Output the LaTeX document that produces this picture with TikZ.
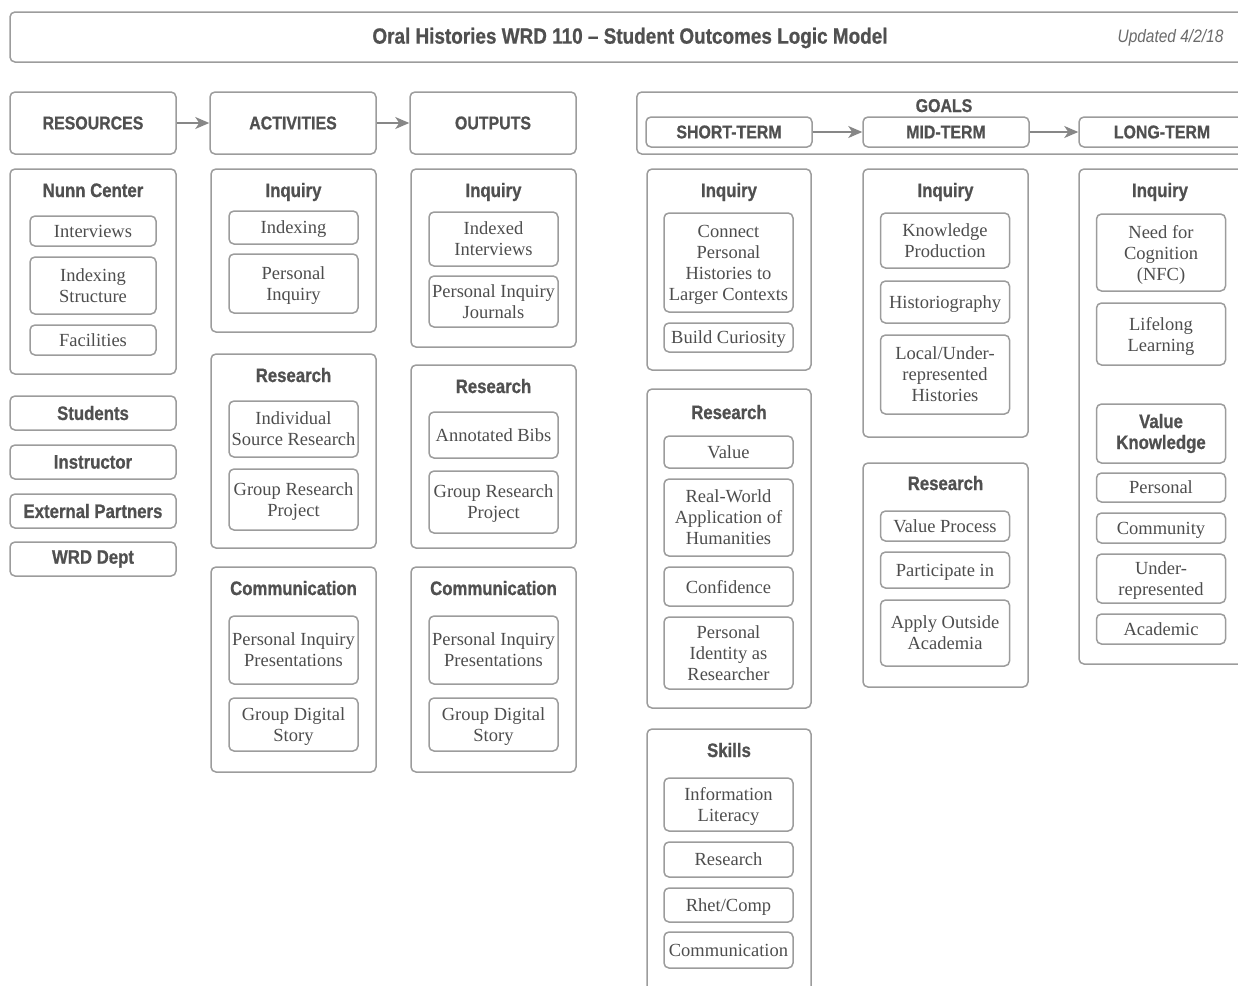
\documentclass[tikz,border=0pt]{standalone}
\usepackage{fontspec}
\setmainfont{Liberation Serif}
\newfontfamily\condsans[FakeStretch=0.86, BoldFeatures={FakeBold=0.8}]{Liberation Sans}
\usepackage{xcolor}
\usepackage{tikz}
\usetikzlibrary{arrows.meta, positioning}
\definecolor{ink}{HTML}{505050}
\definecolor{itemink}{HTML}{4D4D4D}
\definecolor{rule}{HTML}{9C9C9C}
\definecolor{arrowgrey}{HTML}{878787}
\newcommand{\headfont}{\condsans\bfseries\fontsize{19.5}{21}\selectfont}
\newcommand{\termfont}{\condsans\bfseries\fontsize{18.5}{21}\selectfont}
\newcommand{\itemfont}{\fontsize{18.5}{21}\selectfont}
\tikzstyle{groupbox} = [rectangle, rounded corners=5pt, draw=rule, line width=1.5pt, inner sep=0pt]
\tikzstyle{itembox} = [groupbox, minimum width=129pt, align=center, font=\itemfont, text=itemink, text depth=-2pt]
\tikzstyle{headbox} = [groupbox, minimum width=166pt, align=center, font=\headfont, text=ink]
\tikzstyle{headtext} = [anchor=base, font=\headfont, text=ink]
\tikzstyle{flow} = [line width=1.5pt, -{Stealth[length=14pt, width=12pt, inset=4pt]}, color=arrowgrey]

\begin{document}
\begin{tikzpicture}[x=1pt, y=-1pt, node distance=32.5pt]
\useasboundingbox (0,0) rectangle (1238,985);

% title bar
\node (titlebox) [groupbox, minimum width=1240pt, minimum height=50pt] at (630,37) {};
\node (title) [font=\condsans\bfseries\fontsize{22}{24}\selectfont, text=ink] at (630,38) {Oral Histories WRD 110 – Student Outcomes Logic Model};
\node (updated) [font=\condsans\itshape\fontsize{18}{20}\selectfont, text=ink!85] at (1170.5,38) {Updated 4/2/18};

% header row
\node (res) [headbox, font=\termfont, minimum height=62pt] at (93,123) {RESOURCES};
\node (act) [headbox, font=\termfont, minimum height=62pt, right=of res] {ACTIVITIES};
\node (out) [headbox, font=\termfont, minimum height=62pt, right=of act] {OUTPUTS};

\node (goals) [groupbox, minimum width=620pt, minimum height=62pt, anchor=west] at (636,123) {};
\node (goalshead) [headtext, font=\termfont] at (944,112) {GOALS};
\node (short) [headbox, font=\termfont, minimum height=30pt] at (729,132) {SHORT-TERM};
\node (mid) [headbox, font=\termfont, minimum height=30pt, right=49.5pt of short] {MID-TERM};
\node (long) [headbox, font=\termfont, minimum height=30pt, right=48.5pt of mid] {LONG-TERM};

% resources
\node (nunn) [groupbox, minimum width=166pt, minimum height=205pt] at (93,271.5) {};
\node (nunnhead) [headtext] at (93,197) {Nunn Center};
\node (interviews) [itembox, minimum width=126pt, minimum height=30pt] at (93,231) {Interviews};
\node (idxstruct) [itembox, minimum width=126pt, minimum height=57pt] at (93,285.5) {Indexing\\Structure};
\node (facilities) [itembox, minimum width=126pt, minimum height=30pt] at (93,340) {Facilities};
\node (students) [headbox, minimum height=34pt] at (93,413) {Students};
\node (instructor) [headbox, minimum height=34pt] at (93,462) {Instructor};
\node (partners) [headbox, minimum height=34pt] at (93,511) {External Partners};
\node (wrd) [headbox, minimum height=34pt] at (93,559) {WRD Dept};

% activities
\node (actinq) [groupbox, minimum width=165pt, minimum height=163pt] at (293.5,250.5) {};
\node (actinqhead) [headtext] at (293.5,197) {Inquiry};
\node (actidx) [itembox, minimum height=33pt] at (293.5,227.5) {Indexing};
\node (actpers) [itembox, minimum height=59pt] at (293.5,283.5) {Personal\\Inquiry};
\node (actres) [groupbox, minimum width=165pt, minimum height=194pt] at (293.5,451) {};
\node (actreshead) [headtext] at (293.5,382) {Research};
\node (actindiv) [itembox, minimum height=56pt] at (293.5,429) {Individual\\Source Research};
\node (actgroup) [itembox, minimum height=61pt] at (293.5,499.5) {Group Research\\Project};
\node (actcom) [groupbox, minimum width=165pt, minimum height=205pt] at (293.5,669.5) {};
\node (actcomhead) [headtext] at (293.5,595) {Communication};
\node (actpres) [itembox, minimum height=68pt] at (293.5,650) {Personal Inquiry\\Presentations};
\node (actstory) [itembox, minimum height=53pt] at (293.5,724.5) {Group Digital\\Story};

% outputs
\node (outinq) [groupbox, minimum width=165pt, minimum height=178pt] at (493.5,258) {};
\node (outinqhead) [headtext] at (493.5,197) {Inquiry};
\node (outidx) [itembox, minimum height=54pt] at (493.5,239) {Indexed\\Interviews};
\node (outjournal) [itembox, minimum height=51pt] at (493.5,301.5) {Personal Inquiry\\Journals};
\node (outres) [groupbox, minimum width=165pt, minimum height=183pt] at (493.5,456.5) {};
\node (outreshead) [headtext] at (493.5,393) {Research};
\node (outbibs) [itembox, minimum height=46pt] at (493.5,435) {Annotated Bibs};
\node (outgroup) [itembox, minimum height=62pt] at (493.5,502) {Group Research\\Project};
\node (outcom) [groupbox, minimum width=165pt, minimum height=205pt] at (493.5,669.5) {};
\node (outcomhead) [headtext] at (493.5,595) {Communication};
\node (outpres) [itembox, minimum height=68pt] at (493.5,650) {Personal Inquiry\\Presentations};
\node (outstory) [itembox, minimum height=53pt] at (493.5,724.5) {Group Digital\\Story};

% short-term goals
\node (stinq) [groupbox, minimum width=164pt, minimum height=201pt] at (729,269.5) {};
\node (stinqhead) [headtext] at (729,197) {Inquiry};
\node (stconnect) [itembox, minimum height=99pt] at (728.5,262.5) {Connect\\Personal\\Histories to\\Larger Contexts};
\node (stcurious) [itembox, minimum height=29pt] at (728.5,337.5) {Build Curiosity};
\node (stres) [groupbox, minimum width=164pt, minimum height=319pt] at (729,548.5) {};
\node (streshead) [headtext] at (729,419) {Research};
\node (stvalue) [itembox, minimum height=32pt] at (728.5,452) {Value};
\node (stworld) [itembox, minimum height=77pt] at (728.5,517.5) {Real-World\\Application of\\Humanities};
\node (stconf) [itembox, minimum height=39pt] at (728.5,586.5) {Confidence};
\node (stident) [itembox, minimum height=72pt] at (728.5,653) {Personal\\Identity as\\Researcher};
\node (stskills) [groupbox, minimum width=164pt, minimum height=281pt] at (729,869.5) {};
\node (stskillshead) [headtext] at (729,757) {Skills};
\node (stinfo) [itembox, minimum height=53pt] at (728.5,804.5) {Information\\Literacy};
\node (stresearch) [itembox, minimum height=35pt] at (728.5,859.5) {Research};
\node (strhet) [itembox, minimum height=34pt] at (728.5,905) {Rhet/Comp};
\node (stcomm) [itembox, minimum height=36pt] at (728.5,950) {Communication};

% mid-term goals
\node (midinq) [groupbox, minimum width=165pt, minimum height=268pt] at (945.5,303) {};
\node (midinqhead) [headtext] at (945.5,197) {Inquiry};
\node (midknow) [itembox, minimum height=55pt] at (945,240.5) {Knowledge\\Production};
\node (midhist) [itembox, minimum height=42pt] at (945,302) {Historiography};
\node (midlocal) [itembox, minimum height=79pt] at (945,374.5) {Local/Under-\\represented\\Histories};
\node (midres) [groupbox, minimum width=165pt, minimum height=224pt] at (945.5,575) {};
\node (midreshead) [headtext] at (945.5,490) {Research};
\node (midvalue) [itembox, minimum height=30pt] at (945,526) {Value Process};
\node (midpart) [itembox, minimum height=36pt] at (945,570) {Participate in};
\node (midapply) [itembox, minimum height=66pt] at (945,633) {Apply Outside\\Academia};

% long-term goals
\node (ltinq) [groupbox, minimum width=165pt, minimum height=495pt] at (1161.5,416.5) {};
\node (ltinqhead) [headtext] at (1160,197) {Inquiry};
\node (ltnfc) [itembox, minimum height=77pt] at (1161,252.5) {Need for\\Cognition\\(NFC)};
\node (ltlife) [itembox, minimum height=62pt] at (1161,334) {Lifelong\\Learning};
\node (ltvalue) [headbox, minimum width=129pt, minimum height=59pt] at (1161,433.5) {Value\\Knowledge};
\node (ltpers) [itembox, minimum height=29pt] at (1161,487.5) {Personal};
\node (ltcomm) [itembox, minimum height=30pt] at (1161,528) {Community};
\node (ltunder) [itembox, minimum height=49pt] at (1161,578.5) {Under-\\represented};
\node (ltacad) [itembox, minimum height=30pt] at (1161,629) {Academic};

\draw[flow] (res) -- (act);
\draw[flow] (act) -- (out);
\draw[flow] (short) -- (mid);
\draw[flow] (mid) -- (long);
\end{tikzpicture}
\end{document}
